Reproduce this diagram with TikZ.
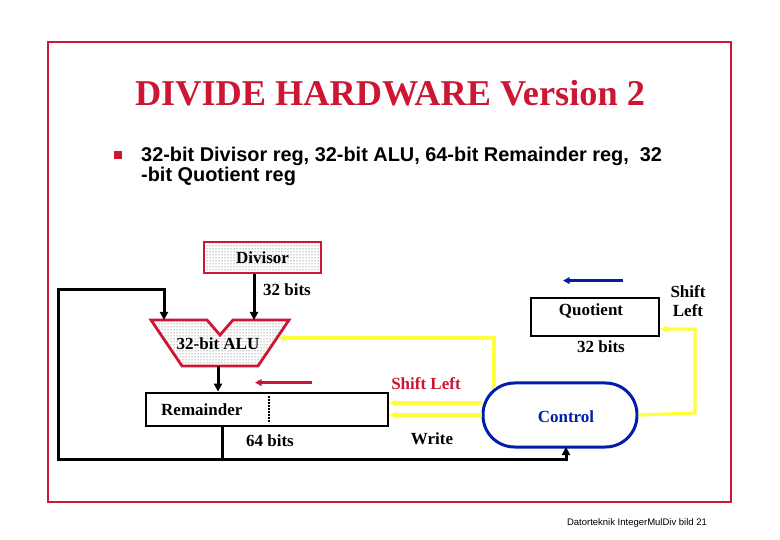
\documentclass[tikz,border=0pt]{standalone}
\usepackage{fontspec}
\setmainfont{Liberation Serif}
\setsansfont{Liberation Sans}
\usetikzlibrary{arrows.meta,patterns,positioning,calc}
\definecolor{slidered}{RGB}{204,22,52}
\definecolor{wireyellow}{RGB}{255,255,60}
\definecolor{ctrlblue}{RGB}{0,30,170}
\begin{document}
\begin{tikzpicture}[x=1pt,y=-1pt,
  reg/.style={draw, line width=2.8pt, inner sep=0pt},
  dotfill/.style={pattern=dots, pattern color=black!75},
  lbl/.style={font=\fontsize{17}{19}\selectfont\bfseries, inner sep=0pt, align=center},
  wire/.style={line width=3pt},
  sig/.style={wireyellow, line width=3.2pt},
  tip/.style={-{Triangle[length=8pt,width=8pt]}},
  smalltip/.style={-{Triangle[length=6.5pt,width=6.5pt]}}]
\useasboundingbox (0,0) rectangle (780,540);
\draw[slidered, line width=1.8pt] (48,42) rectangle (731,502);
% title and bullet
\node[slidered, inner sep=0pt, font=\fontsize{36.3}{40}\selectfont\bfseries] (title) at (390,93) {DIVIDE HARDWARE Version 2};
\node[fill=slidered, minimum size=8pt, inner sep=0pt] (bullet) at (118,155) {};
\node[anchor=base west, inner sep=0pt, font=\sffamily\bfseries\fontsize{19.9}{20}\selectfont] (spec1) at (141,162) {32-bit Divisor reg, 32-bit ALU, 64-bit Remainder reg,\ \ 32};
\node[anchor=base west, inner sep=0pt, font=\sffamily\bfseries\fontsize{19.9}{20}\selectfont] (spec2) at (141,182) {-bit Quotient reg};
% registers
\node[reg, draw=slidered, dotfill, minimum width=117pt, minimum height=31pt, lbl] (divisor) at (262.5,257.5) {Divisor};
\draw[slidered, line width=2.8pt, dotfill] (151,320) -- (207,320) -- (220,335) -- (233,320) -- (289,320) -- (258,366) -- (182,366) -- cycle;
\node[lbl] (alu) at (218,344) {32-bit ALU};
\coordinate (alu-a) at (164,320);
\coordinate (alu-b) at (254,320);
\coordinate (alu-out) at (218,366);
\coordinate (alu-ctl) at (279,338);
\node[reg, minimum width=242pt, minimum height=33pt] (remainder) at (267,409.5) {};
\node[lbl, anchor=west] (remlabel) at (161,410) {Remainder};
\draw[line width=2.2pt, dash pattern=on 1.5pt off 1.5pt] (269,396) -- (269,422);
\node[reg, minimum width=128pt, minimum height=38pt] (quotient) at (595,317) {};
\node[lbl] (quolabel) at (591,311) {Quotient};
\node[draw=ctrlblue, line width=3pt, rounded corners=31.5pt, minimum width=154pt, minimum height=64pt] (control) at (560,415) {};
\node[lbl, text=ctrlblue] (ctrllabel) at (566,417) {Control};
% labels
\node[lbl] (divbits) at (287,290) {32 bits};
\node[lbl] (rembits) at (270,441) {64 bits};
\node[lbl] (quobits) at (601,347) {32 bits};
\node[lbl] (quoshift) at (688,301) {Shift\\Left};
\node[lbl, text=slidered] (remshift) at (426,384) {Shift Left};
\node[lbl] (write) at (432,439) {Write};
\node[font=\sffamily\fontsize{9.5}{10}\selectfont, inner sep=0pt] (footer) at (637,523) {Datorteknik IntegerMulDiv bild 21};
% data paths
\coordinate (remtap) at (222,459);
\coordinate (busL) at (58,459);
\coordinate (loopturn) at (58,290);
\coordinate (ctrl-in) at (566,447);
\draw[wire, tip] (divisor.south -| alu-b) -- (alu-b);
\draw[wire, tip] (alu-out) -- (alu-out |- remainder.north);
\draw[wire, tip, line join=miter] (remainder.south -| remtap) -- (remtap) -- (busL) -- (loopturn) -| (alu-a);
\draw[wire, tip] (remtap) -| (ctrl-in);
% control signals
\coordinate (ctrl-a) at (494,388);
\coordinate (shifttap) at (0,403);
\coordinate (writetap) at (0,415);
\coordinate (quoturn) at (695,413);
\draw[sig, smalltip] (ctrl-a) |- (alu-ctl);
\draw[sig, smalltip] (control.west |- shifttap) -- (remainder.east |- shifttap);
\draw[sig, smalltip] (control.west |- writetap) -- (remainder.east |- writetap);
\draw[sig, smalltip] (control.east) -- (quoturn) |- ($(quotient.east)+(0,12)$);
% shift direction
\draw[slidered, line width=2.6pt, smalltip] (remainder.north) ++(45,-9) -- ++(-57,0);
\draw[ctrlblue, line width=2.6pt, smalltip] (quotient.north) ++(28,-16) -- ++(-60,0);
\end{tikzpicture}
\end{document}
